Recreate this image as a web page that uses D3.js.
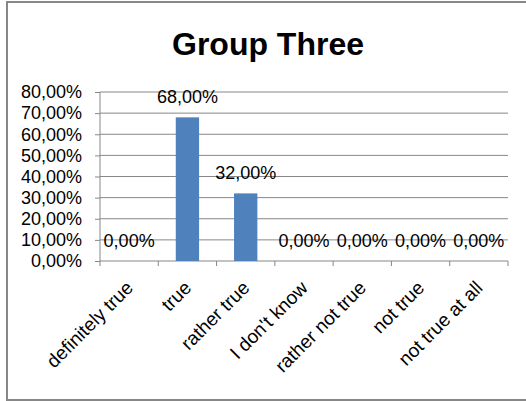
<!DOCTYPE html>
<html>
<head>
<meta charset="utf-8">
<script src="https://cdn.jsdelivr.net/npm/d3@7"></script>
<style>
  body { margin: 0; background: #fff; }
  svg { display: block; font-family: "Liberation Sans", Arial, sans-serif; }
</style>
</head>
<body>
<svg id="chart"></svg>
<script>
let categories = ["definitely true", "true", "rather true", "I don't know", "rather not true", "not true", "not true at all"];
let values = [0, 0.68, 0.32, 0, 0, 0, 0];
let yTicks = [0, 0.1, 0.2, 0.3, 0.4, 0.5, 0.6, 0.7, 0.8];
let title = "Group Three";

let w = 526;
let h = 401;

let svg = d3.select("#chart")
    .attr("width", w)
    .attr("height", h);

// outer frame
svg.append("rect")
    .attr("x", 7)
    .attr("y", 2)
    .attr("width", 530)
    .attr("height", 398)
    .attr("fill", "#fff")
    .attr("stroke", "#878787")
    .attr("stroke-width", 2);

svg.append("text")
    .attr("x", 268)
    .attr("y", 55)
    .attr("text-anchor", "middle")
    .attr("font-size", 32)
    .attr("font-weight", "bold")
    .text(title);

let fmt = v => d3.format(".2f")(v * 100).replace(".", ",") + "%";

let x = d3.scaleBand()
    .domain(categories)
    .range([100, 508])
    .paddingInner(0.6)
    .paddingOuter(0.3);

let y = d3.scaleLinear()
    .domain([0, 0.8])
    .range([261, 92]);

// gridlines
svg.append("g")
    .selectAll("line")
    .data(yTicks.slice(1))
    .join("line")
    .attr("x1", 100)
    .attr("x2", 508)
    .attr("y1", d => y(d))
    .attr("y2", d => y(d))
    .attr("stroke", "#878787")
    .attr("stroke-width", 1);

// y axis
let yAxis = d3.axisLeft(y)
    .tickValues(yTicks)
    .tickSize(5)
    .tickPadding(13)
    .tickFormat(fmt);
let yg = svg.append("g")
    .attr("transform", "translate(100,0)")
    .call(yAxis);
yg.select(".domain").attr("stroke", "#878787").attr("d", "M0,92V261");
yg.selectAll(".tick line").attr("stroke", "#878787");
yg.selectAll(".tick text")
    .attr("font-size", 18)
    .attr("font-family", "Liberation Sans, Arial, sans-serif")
    .attr("fill", "#000");

// x axis line and boundary ticks
svg.append("line")
    .attr("x1", 100).attr("x2", 508)
    .attr("y1", 261).attr("y2", 261)
    .attr("stroke", "#878787");
svg.append("g")
    .selectAll("line")
    .data(d3.range(categories.length + 1))
    .join("line")
    .attr("x1", i => 100 + i * (408 / categories.length))
    .attr("x2", i => 100 + i * (408 / categories.length))
    .attr("y1", 261)
    .attr("y2", 266)
    .attr("stroke", "#878787");

// bars
svg.append("g")
    .selectAll("rect")
    .data(values)
    .join("rect")
    .attr("x", (d, i) => x(categories[i]))
    .attr("width", x.bandwidth())
    .attr("y", d => y(d))
    .attr("height", d => y(0) - y(d))
    .attr("fill", "#4f81bd");

// value labels
svg.append("g")
    .selectAll("text")
    .data(values)
    .join("text")
    .attr("x", (d, i) => x(categories[i]) + x.bandwidth() / 2)
    .attr("y", d => y(d) - 14)
    .attr("text-anchor", "middle")
    .attr("font-size", 18)
    .text(d => fmt(d));

// category labels
svg.append("g")
    .selectAll("text")
    .data(categories)
    .join("text")
    .attr("transform", d => `translate(${x(d) + x.bandwidth() / 2 + 5},${289}) rotate(-45)`)
    .attr("text-anchor", "end")
    .attr("font-size", 19)
    .text(d => d);
</script>
</body>
</html>
